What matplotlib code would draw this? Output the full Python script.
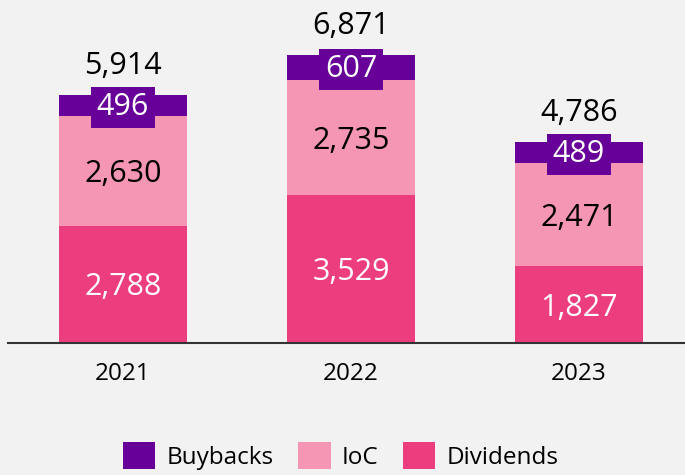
import matplotlib.pyplot as plt
import numpy as np

years = ["2021", "2022", "2023"]
dividends = [2788, 3529, 1827]
ioc = [2630, 2735, 2471]
buybacks = [496, 607, 489]
totals = [5914, 6871, 4786]

c_div = "#EC3D7F"
c_ioc = "#F596B4"
c_buy = "#660099"
bg = "#F2F2F2"

plt.rcParams['font.family'] = ['Open Sans', 'DejaVu Sans']

fig = plt.figure(figsize=(6.85, 4.75), dpi=100, facecolor=bg)
ax = fig.add_axes([8 / 685, 132 / 475, 677 / 685, 343 / 475])
ax.set_facecolor(bg)

x = np.arange(len(years))
w = 0.56
div_b = np.array(dividends)
ioc_b = np.array(ioc)
buy_b = np.array(buybacks)

ax.bar(x, div_b, w, color=c_div, label="Dividends")
ax.bar(x, ioc_b, w, bottom=div_b, color=c_ioc, label="IoC")
ax.bar(x, buy_b, w, bottom=div_b + ioc_b, color=c_buy, label="Buybacks")

dy = 70  # nudge labels slightly down
for i in range(len(years)):
    ax.text(x[i], div_b[i] / 2 - dy, f"{dividends[i]:,}", ha="center", va="center",
            color="white", fontsize=22)
    ax.text(x[i], div_b[i] + ioc_b[i] / 2 - dy, f"{ioc[i]:,}", ha="center", va="center",
            color="black", fontsize=22)
    ax.text(x[i], div_b[i] + ioc_b[i] + buy_b[i] / 2 - 40, f"{buybacks[i]:,}",
            ha="center", va="center", color="white", fontsize=22,
            bbox=dict(boxstyle="square,pad=0.18", fc=c_buy, ec="none"))
    ax.text(x[i], totals[i] + 700, f"{totals[i]:,}", ha="center", va="center",
            color="black", fontsize=22)

ax.set_xlim(-0.504, 2.465)
ax.set_ylim(0, 8180)
ax.set_xticks(x)
ax.set_xticklabels(years, fontsize=17.5)
ax.tick_params(axis="x", length=0, pad=14)
ax.set_yticks([])
for s in ["top", "right", "left"]:
    ax.spines[s].set_visible(False)
ax.spines["bottom"].set_color("#333333")
ax.spines["bottom"].set_linewidth(1.5)

h, l = ax.get_legend_handles_labels()
fig.legend(h[::-1], l[::-1], loc="center", bbox_to_anchor=(0.497, 0.04),
           ncol=3, frameon=False, fontsize=17.5, handlelength=1.35, handleheight=1.35,
           handletextpad=0.45, columnspacing=1.0)

fig.savefig("out.png", dpi=100, facecolor=bg)
